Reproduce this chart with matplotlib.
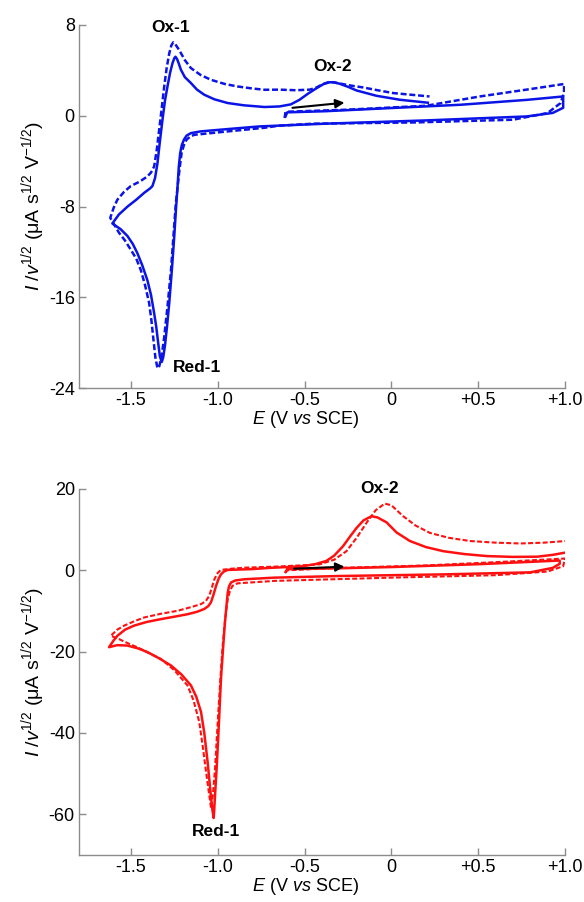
import matplotlib
matplotlib.use("Agg")
import matplotlib.pyplot as plt

plt.rcParams["font.family"] = ["Liberation Sans", "DejaVu Sans"]
plt.rcParams["mathtext.fontset"] = "custom"
plt.rcParams["mathtext.rm"] = "Liberation Sans"
plt.rcParams["mathtext.it"] = "Liberation Sans:italic"
plt.rcParams["mathtext.bf"] = "Liberation Sans:bold"

# ── data ──────────────────────────────────────────────────────────────────────
# top panel, solid: start -0.6 V -> +1.0 -> -1.6 -> +0.2
top_solid_E = [-0.61, -0.60, -0.38, 0.00, 0.40, 0.78, 0.99,
               0.99, 0.93, 0.78, 0.20, -0.38, -0.76, -0.94, -1.10, -1.155, -1.18,
               -1.195, -1.208, -1.217, -1.225, -1.232, -1.242, -1.251, -1.265, -1.28,
               -1.293, -1.305, -1.315, -1.323, -1.334, -1.344, -1.355, -1.367, -1.385,
               -1.406, -1.435, -1.464, -1.49, -1.521, -1.56, -1.608,
               -1.57, -1.52, -1.47, -1.425, -1.39, -1.377, -1.362, -1.348, -1.335,
               -1.319, -1.305, -1.29, -1.275, -1.261, -1.25, -1.244, -1.235, -1.225,
               -1.213, -1.19, -1.155, -1.12, -1.078, -1.02, -0.943, -0.85, -0.731,
               -0.645, -0.58, -0.53, -0.48, -0.43, -0.39, -0.356, -0.33, -0.298,
               -0.25, -0.201, -0.14, -0.086, 0.049, 0.21]
top_solid_I = [-0.05, 0.30, 0.40, 0.68, 0.97, 1.40, 1.70,
               0.70, 0.25, -0.06, -0.41, -0.70, -0.94, -1.17, -1.38, -1.53, -1.75,
               -2.1, -2.6, -3.3, -4.5, -6.2, -8.4, -10.6, -13.6, -16.5,
               -18.6, -20.3, -21.3, -21.7, -21.2, -20.0, -18.6, -17.4, -15.8,
               -14.5, -13.2, -12.1, -11.3, -10.6, -10.0, -9.5,
               -8.7, -8.0, -7.4, -6.8, -6.4, -6.2, -5.5, -4.2, -2.4,
               -0.35, 1.3, 2.6, 3.8, 4.65, 5.1, 5.2, 5.0, 4.6,
               4.06, 3.4, 2.88, 2.3, 1.85, 1.45, 1.12, 0.92, 0.77,
               0.82, 1.0, 1.4, 1.95, 2.44, 2.8, 2.95, 2.95, 2.82,
               2.55, 2.23, 1.98, 1.76, 1.41, 1.15]

top_dash_E = [-0.615, -0.61, -0.26, 0.20, 0.51, 0.80, 0.995,
              0.995, 0.975, 0.90, 0.70, 0.13, -0.45, -0.65, -0.731, -0.943, -1.136,
              -1.16, -1.18, -1.196, -1.209, -1.22, -1.242, -1.27, -1.29, -1.309,
              -1.325, -1.338, -1.348, -1.36, -1.371, -1.383, -1.396, -1.42, -1.444,
              -1.47, -1.502, -1.535, -1.57, -1.62,
              -1.60, -1.579, -1.54, -1.502, -1.45, -1.406, -1.385, -1.367, -1.352,
              -1.338, -1.323, -1.309, -1.295, -1.28, -1.268, -1.257, -1.245, -1.223,
              -1.19, -1.155, -1.10, -1.04, -0.96, -0.886, -0.80, -0.731, -0.645,
              -0.55, -0.47, -0.43, -0.40, -0.356, -0.30, -0.23, -0.165, -0.08,
              0.01, 0.22]
top_dash_I = [-0.2, 0.35, 0.53, 0.88, 1.70, 2.35, 2.8,
              2.0, 1.12, 0.24, -0.35, -0.59, -0.70, -0.88, -1.06, -1.38, -1.68,
              -1.85, -2.1, -2.6, -3.3, -4.6, -7.7, -13.6, -16.8, -19.5,
              -21.3, -22.1, -22.25, -21.3, -19.75, -18.0, -16.5, -14.9, -13.6,
              -12.6, -11.8, -11.0, -10.3, -9.0,
              -8.1, -7.4, -6.7, -6.2, -5.8, -5.35, -5.0, -4.47, -3.0,
              -1.23, 0.7, 2.58, 4.2, 5.5, 6.2, 6.47, 6.3, 5.8,
              4.9, 4.2, 3.6, 3.17, 2.8, 2.58, 2.4, 2.29, 2.3,
              2.25, 2.3, 2.5, 2.75, 3.0, 2.85, 2.65, 2.5, 2.25,
              2.0, 1.7]

# bottom panel, solid: start -0.6 V -> +1.0 -> -1.6 -> +1.0
bot_solid_E = [-0.61, -0.60, -0.30, 0.00, 0.50, 0.97,
               0.97, 0.93, 0.80, 0.30, -0.30, -0.673, -0.847, -0.90, -0.924, -0.936,
               -0.943, -0.952, -0.962, -0.972, -0.982, -0.991, -1.0, -1.008, -1.016,
               -1.021, -1.024, -1.031, -1.039, -1.049, -1.059, -1.078, -1.097, -1.125,
               -1.155, -1.21, -1.27, -1.34, -1.406, -1.46, -1.521, -1.58, -1.627,
               -1.60, -1.579, -1.535, -1.483, -1.41, -1.328, -1.25, -1.175, -1.12,
               -1.078, -1.055, -1.04, -1.025, -1.01, -0.995, -0.982, -0.965, -0.943,
               -0.80, -0.70, -0.60, -0.51, -0.44, -0.375, -0.33, -0.279, -0.24,
               -0.201, -0.16, -0.114, -0.08, -0.028, 0.03, 0.107, 0.20, 0.30,
               0.42, 0.55, 0.70, 0.84, 0.93, 0.995]
bot_solid_I = [-0.4, 0.3, 0.5, 0.8, 1.5, 2.4,
               1.6, 0.6, -0.5, -1.0, -1.4, -1.8, -2.2, -2.5, -3.0, -4.0,
               -5.5, -9.5, -14.4, -20.5, -26.7, -35.0, -43.0, -49.5, -55.2,
               -59.0, -60.9, -59.0, -56.0, -51.5, -47.1, -40.0, -34.8, -31.0,
               -28.3, -25.6, -23.4, -21.6, -20.1, -19.2, -18.5, -18.4, -18.9,
               -17.2, -16.1, -14.6, -13.6, -12.7, -12.0, -11.4, -10.8, -10.2,
               -9.5, -8.8, -7.9, -6.0, -3.8, -2.0, -1.0, -0.3, 0.1,
               0.3, 0.6, 0.8, 1.0, 1.5, 2.3, 3.6, 5.9, 8.2,
               10.4, 12.3, 13.3, 13.0, 11.8, 9.3, 7.2, 5.7, 4.7,
               4.0, 3.5, 3.3, 3.35, 3.8, 4.3]

bot_dash_E = [-0.61, -0.60, -0.30, 0.20, 0.60, 1.00,
              0.99, 0.90, 0.60, 0.00, -0.673, -0.886, -0.915, -0.93, -0.943, -0.958,
              -0.972, -0.985, -0.997, -1.007, -1.016, -1.028, -1.039, -1.052, -1.068,
              -1.088, -1.107, -1.14, -1.175, -1.25, -1.328, -1.40, -1.46, -1.52,
              -1.57, -1.617,
              -1.58, -1.54, -1.48, -1.425, -1.33, -1.232, -1.15, -1.097, -1.07,
              -1.05, -1.035, -1.02, -1.0, -0.982, -0.92, -0.847, -0.673, -0.55,
              -0.413, -0.33, -0.259, -0.20, -0.143, -0.09, -0.038, 0.00, 0.068,
              0.14, 0.222, 0.33, 0.454, 0.60, 0.743, 0.88, 1.003]
bot_dash_I = [-0.6, 0.0, 0.6, 1.2, 2.0, 2.9,
              1.0, -0.3, -1.2, -1.8, -2.6, -3.2, -3.8, -5.0, -7.1, -12.0,
              -18.5, -26.5, -34.8, -42.0, -48.7, -55.0, -58.5, -54.5, -49.5,
              -43.0, -37.3, -32.0, -28.3, -24.6, -21.8, -20.3, -19.0, -17.9,
              -16.9, -16.1,
              -14.6, -13.6, -12.5, -11.6, -10.7, -9.95, -9.0, -8.3, -7.6,
              -6.3, -4.3, -2.2, -0.6, 0.1, 0.4, 0.65, 0.9, 1.15,
              1.47, 2.6, 4.7, 8.0, 11.7, 14.8, 16.4, 16.0, 13.3,
              11.0, 9.2, 8.0, 7.2, 6.8, 6.6, 6.8, 7.2]

x_ticks = [-1.5, -1.0, -0.5, 0.0, 0.5, 1.0]
x_tick_labels = ["-1.5", "-1.0", "-0.5", "0", "+0.5", "+1.0"]
top_y_ticks = [8, 0, -8, -16, -24]
bot_y_ticks = [20, 0, -20, -40, -60]

top_peak_names = ["Ox-1", "Ox-2", "Red-1"]
top_peak_E = [-1.27, -0.34, -1.12]
top_peak_I = [7.8, 4.3, -22.2]
bot_peak_names = ["Ox-2", "Red-1"]
bot_peak_E = [-0.07, -1.01]
bot_peak_I = [20.2, -64.1]

top_arrow_E = [-0.57, -0.27]
top_arrow_I = [0.70, 1.15]
bot_arrow_E = [-0.56, -0.27]
bot_arrow_I = [0.40, 0.90]

# ── figure ────────────────────────────────────────────────────────────────────
fig = plt.figure(figsize=(5.84, 9.02), dpi=100)
ax1 = fig.add_axes([0.1353, 0.5698, 0.832, 0.4025])
ax2 = fig.add_axes([0.1353, 0.0521, 0.832, 0.4058])

BLUE = "#0a14e6"
RED = "#ff1010"
GREY = "#8c8c8c"
dash = (2.4, 1.1)

ax1.plot(top_solid_E, top_solid_I, color=BLUE, lw=1.8, solid_joinstyle="round")
ax1.plot(top_dash_E, top_dash_I, color=BLUE, lw=1.8, ls=(0, dash))
ax2.plot(bot_solid_E, bot_solid_I, color=RED, lw=1.8, solid_joinstyle="round")
ax2.plot(bot_dash_E, bot_dash_I, color=RED, lw=1.5, ls=(0, dash))

for ax, aE, aI in [(ax1, top_arrow_E, top_arrow_I), (ax2, bot_arrow_E, bot_arrow_I)]:
    ax.annotate("", xy=(aE[1], aI[1]), xytext=(aE[0], aI[0]),
                arrowprops=dict(arrowstyle="-|>", color="black", lw=1.5,
                                mutation_scale=13, shrinkA=0, shrinkB=0))

for name, e, i in zip(top_peak_names, top_peak_E, top_peak_I):
    ax1.text(e, i, name, ha="center", va="center", fontsize=12.5, fontweight="bold")
for name, e, i in zip(bot_peak_names, bot_peak_E, bot_peak_I):
    ax2.text(e, i, name, ha="center", va="center", fontsize=12.5, fontweight="bold")

ax1.set_ylim(-24, 8)
ax2.set_ylim(-70, 20)
ax1.set_yticks(top_y_ticks)
ax2.set_yticks(bot_y_ticks)
ax1.set_yticklabels([str(t) for t in top_y_ticks])
ax2.set_yticklabels([str(t) for t in bot_y_ticks])

ylab = r"$I$ /$v$$^{1/2}$ (μA s$^{1/2}$ V$^{-1/2}$)"
xlab = r"$E$ (V $vs$ SCE)"
for ax in (ax1, ax2):
    ax.set_xlim(-1.8, 1.0)
    ax.set_xticks(x_ticks)
    ax.set_xticklabels(x_tick_labels)
    for s in ("top", "right"):
        ax.spines[s].set_visible(False)
    for s in ("left", "bottom"):
        ax.spines[s].set_color(GREY)
        ax.spines[s].set_linewidth(1.0)
    ax.tick_params(direction="in", length=5, width=1, color=GREY,
                   labelsize=13, pad=3)
    ax.set_xlabel(xlab, fontsize=13, labelpad=0)
    ax.xaxis.label.set_x(0.467)
    ax.set_ylabel(ylab, fontsize=14, labelpad=1)

fig.savefig("out.png", dpi=100, facecolor="white")
